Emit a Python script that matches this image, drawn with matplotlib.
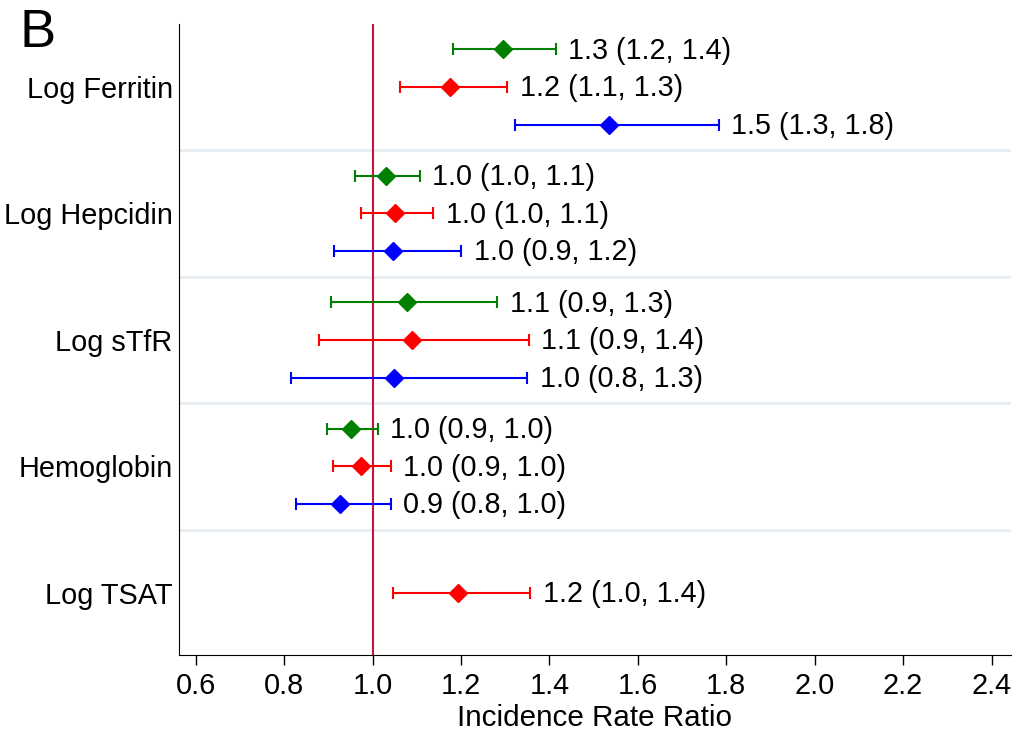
import numpy as np
import matplotlib.pyplot as plt

plt.rcParams['font.family'] = ['Liberation Sans', 'DejaVu Sans']

# Biomarkers (top to bottom) and incidence rate ratios per model (green, red, blue)
markers = ['Log Ferritin', 'Log Hepcidin', 'Log sTfR', 'Hemoglobin', 'Log TSAT']
colors = ['#008000', '#ff0000', '#0000ff']

irr = [[1.295, 1.176, 1.535],
       [1.030, 1.051, 1.047],
       [1.078, 1.089, 1.049],
       [0.952, 0.973, 0.927],
       [None, 1.193, None]]
lower = [[1.181, 1.062, 1.323],
         [0.960, 0.973, 0.912],
         [0.905, 0.878, 0.815],
         [0.896, 0.911, 0.826],
         [None, 1.046, None]]
upper = [[1.414, 1.305, 1.783],
         [1.107, 1.137, 1.201],
         [1.282, 1.353, 1.350],
         [1.012, 1.041, 1.041],
         [None, 1.357, None]]
labels = [['1.3 (1.2, 1.4)', '1.2 (1.1, 1.3)', '1.5 (1.3, 1.8)'],
          ['1.0 (1.0, 1.1)', '1.0 (1.0, 1.1)', '1.0 (0.9, 1.2)'],
          ['1.1 (0.9, 1.3)', '1.1 (0.9, 1.4)', '1.0 (0.8, 1.3)'],
          ['1.0 (0.9, 1.0)', '1.0 (0.9, 1.0)', '0.9 (0.8, 1.0)'],
          [None, '1.2 (1.0, 1.4)', None]]

fig = plt.figure(figsize=(10.13, 7.40), dpi=100)
ax = fig.add_axes([0.1767, 0.1149, 0.998 - 0.1767, 0.9676 - 0.1149])

step = 3.355  # distance between biomarker groups, in rows
for g, name in enumerate(markers):
    for k in range(3):
        if irr[g][k] is None:
            continue
        y = -(g * step + k)
        m = irr[g][k]
        ax.errorbar(m, y, xerr=[[m - lower[g][k]], [upper[g][k] - m]],
                    fmt='D', color=colors[k], ms=9, lw=1.5,
                    capsize=4.6, capthick=1.5, zorder=3)
        ax.annotate(labels[g][k], (upper[g][k], y), xytext=(9, -1),
                    textcoords='offset points', va='center', ha='left',
                    fontsize=20.7)
    if g < len(markers) - 1:
        ax.axhline(-(g * step + 2 + (step - 2) / 2), color='#e6edf0', lw=2, zorder=1)

ax.axvline(1.0, color='#c8143c', lw=1.5, zorder=2)

ax.set_yticks([-(g * step + 1) for g in range(len(markers))])
ax.set_yticklabels(markers, fontsize=20.8)
ax.tick_params(axis='y', length=0, pad=4.5)

ax.set_xticks(np.arange(0.6, 2.41, 0.2))
ax.set_xticklabels(['%.1f' % v for v in np.arange(0.6, 2.41, 0.2)], fontsize=20.8)
ax.tick_params(axis='x', length=7, width=1, pad=5)

ax.set_xlim(0.562, 2.444)
ax.set_ylim(-16.07, 0.671)
ax.set_xlabel('Incidence Rate Ratio', fontsize=21.3, labelpad=3)

ax.spines['top'].set_visible(False)
ax.spines['right'].set_visible(False)

fig.text(0.019, 0.9365, 'B', fontsize=39, va='baseline', ha='left')

plt.savefig('out.png', dpi=100)
plt.close()
